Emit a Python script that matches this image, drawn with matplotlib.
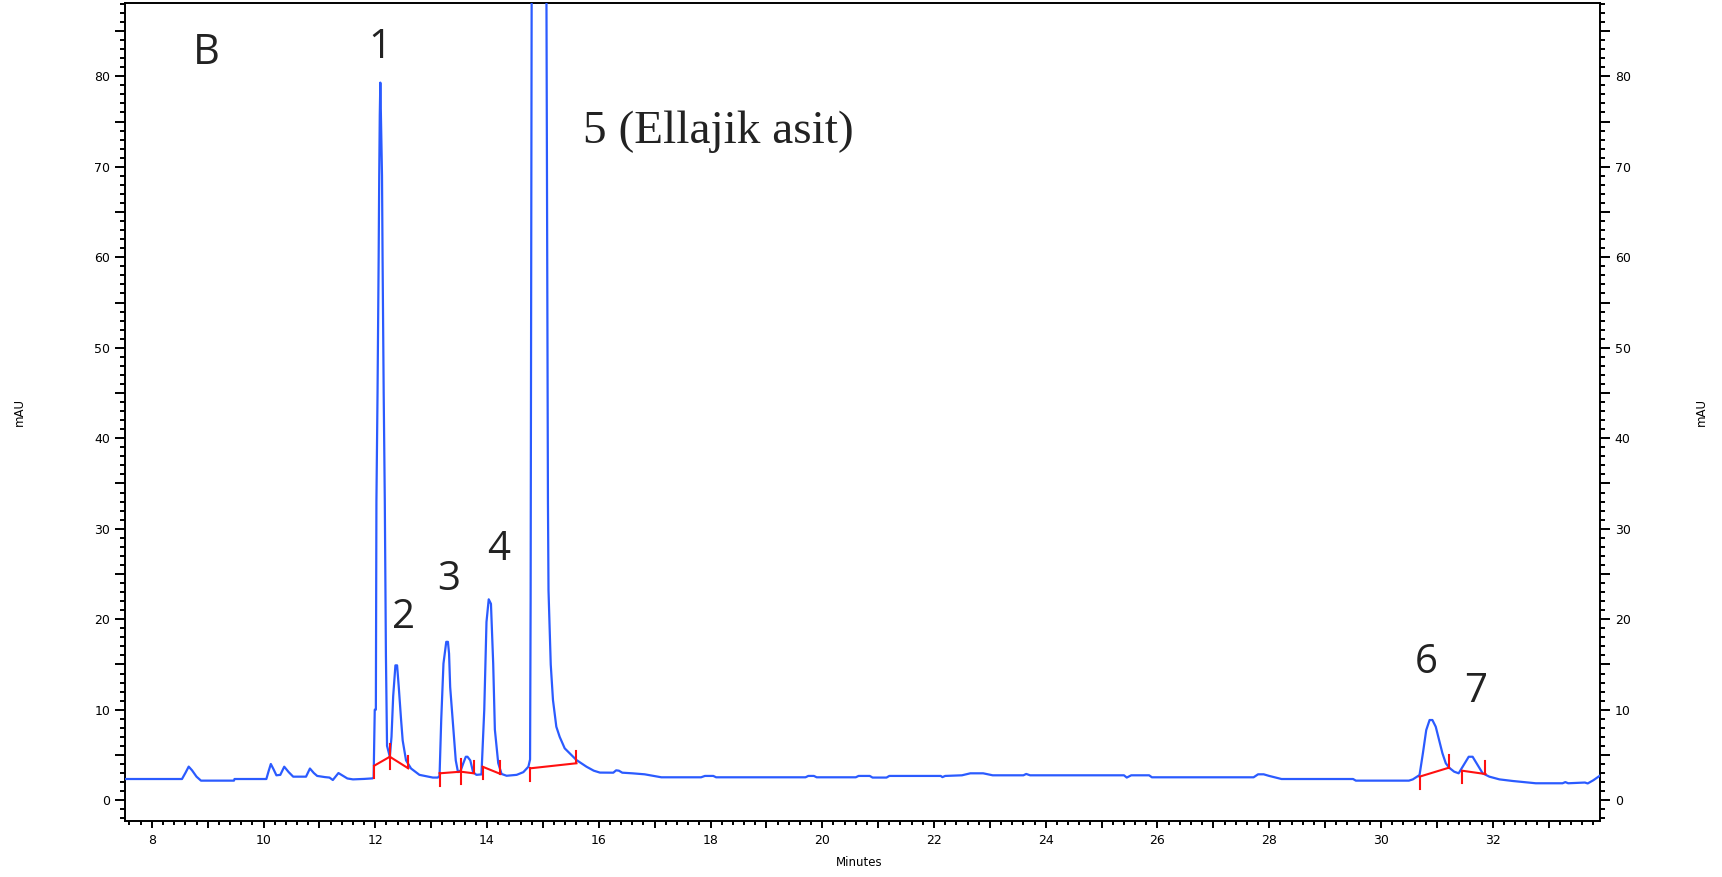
import matplotlib.pyplot as plt
from matplotlib.ticker import MultipleLocator, FuncFormatter

# Chromatogram trace (retention time in minutes, absorbance in mAU)
t_early = [7.52, 8.54, 8.60, 8.66, 8.72, 8.80, 8.88, 9.47, 9.48, 10.05, 10.09, 10.13,
           10.18, 10.23, 10.30, 10.37, 10.45, 10.53, 10.76, 10.83, 10.90, 10.96, 11.10,
           11.18, 11.24, 11.34, 11.42, 11.50, 11.60, 11.80, 11.95]
y_early = [2.34, 2.34, 3.0, 3.71, 3.3, 2.6, 2.16, 2.16, 2.34, 2.34, 3.2, 4.0,
           3.4, 2.75, 2.8, 3.7, 3.1, 2.6, 2.6, 3.5, 3.0, 2.68, 2.55,
           2.5, 2.23, 3.0, 2.7, 2.4, 2.3, 2.35, 2.41]

t_main = [11.97, 11.99, 12.01, 12.02, 12.04, 12.06, 12.07, 12.08, 12.09, 12.10, 12.12,
          12.13, 12.15, 12.17, 12.19, 12.21, 12.26, 12.29, 12.32, 12.36, 12.39, 12.42,
          12.46, 12.49, 12.55, 12.64, 12.79, 13.03, 13.12, 13.15, 13.18, 13.22, 13.27,
          13.30, 13.32, 13.34, 13.39, 13.44, 13.48, 13.53, 13.57, 13.62, 13.65, 13.70,
          13.75, 13.81, 13.90, 13.95, 13.99, 14.03, 14.07, 14.11, 14.14, 14.20, 14.26,
          14.35, 14.53, 14.65, 14.74, 14.77, 14.78, 14.79, 14.80, 14.82, 14.94, 15.05,
          15.06, 15.08, 15.09, 15.10, 15.14, 15.18, 15.24, 15.30, 15.39, 15.48, 15.60,
          15.78, 15.91, 16.02, 16.26, 16.31, 16.36, 16.42, 16.60, 16.82, 17.12]
y_main = [2.5, 10.0, 10.0, 33.0, 45.0, 60.0, 69.0, 75.7, 79.3, 75.7, 69.0,
          60.0, 45.0, 33.0, 16.0, 6.0, 4.8, 7.0, 11.5, 14.9, 14.9, 12.5,
          9.0, 6.6, 4.4, 3.5, 2.8, 2.5, 2.5, 2.7, 8.9, 15.1, 17.5,
          17.5, 16.2, 12.5, 8.5, 4.4, 3.1, 3.3, 4.0, 4.8, 4.8, 4.4,
          3.1, 2.8, 2.85, 9.97, 19.7, 22.2, 21.7, 15.1, 7.8, 4.1, 2.9,
          2.7, 2.8, 3.1, 3.7, 4.5, 22.0, 55.0, 95.0, 130.0, 150.0, 130.0,
          95.0, 55.0, 33.0, 23.2, 15.0, 11.07, 8.12, 7.0, 5.73, 5.18, 4.44,
          3.7, 3.26, 3.05, 3.04, 3.3, 3.26, 3.04, 2.97, 2.86, 2.53]

t_mid = [17.83, 17.90, 18.05, 18.10, 19.70, 19.75, 19.85, 19.90, 20.60, 20.65, 20.85,
         20.90, 21.15, 21.20, 22.12, 22.15, 22.20, 22.50, 22.65, 22.88, 23.05, 23.60,
         23.65, 23.72, 25.40, 25.45, 25.53, 25.85, 25.90, 27.72, 27.80, 27.90, 28.00,
         28.22, 29.50, 29.55, 30.50]
y_mid = [2.53, 2.68, 2.68, 2.53, 2.53, 2.68, 2.68, 2.53, 2.53, 2.68, 2.68,
         2.5, 2.5, 2.68, 2.68, 2.55, 2.68, 2.75, 2.97, 2.97, 2.75, 2.75,
         2.9, 2.75, 2.75, 2.5, 2.75, 2.75, 2.53, 2.53, 2.86, 2.86, 2.68,
         2.34, 2.34, 2.16, 2.16]

t_late = [30.57, 30.69, 30.75, 30.81, 30.87, 30.92, 30.98, 31.04, 31.10, 31.16, 31.22,
          31.31, 31.39, 31.48, 31.57, 31.64, 31.73, 31.82, 31.94, 32.12, 32.36, 32.77,
          33.25, 33.30, 33.35, 33.65, 33.70, 33.80, 33.94]
y_late = [2.3, 2.78, 5.18, 7.75, 8.86, 8.86, 8.12, 6.65, 5.18, 4.08, 3.59,
          3.15, 2.97, 3.89, 4.8, 4.8, 3.89, 2.97, 2.6, 2.3, 2.12, 1.87,
          1.87, 2.0, 1.87, 1.95, 1.85, 2.2, 2.8]

# Integration baselines: start time, start level, end time, end level
base_t0 = [11.98, 12.26, 13.15, 13.53, 13.92, 14.77, 30.69, 31.45]
base_y0 = [3.81, 4.80, 2.97, 3.15, 3.70, 3.52, 2.60, 3.26]
base_t1 = [12.26, 12.59, 13.53, 13.76, 14.24, 15.60, 31.22, 31.87]
base_y1 = [4.80, 3.52, 3.15, 2.97, 2.90, 4.08, 3.60, 2.89]

# Peak numbers and where they are written
peak_names = ["1", "2", "3", "4", "6", "7"]
peak_x = [12.08, 12.50, 13.32, 14.20, 30.81, 31.69]
peak_y = [82.0, 19.0, 23.2, 26.5, 14.1, 10.9]

minutes = t_early + t_main + t_mid + t_late
mau = y_early + y_main + y_mid + y_late

fig = plt.figure(figsize=(17.22, 8.77), dpi=100)
ax = fig.add_axes([125 / 1722, 1 - 821 / 877, 1475 / 1722, 818 / 877])

ax.plot(minutes, mau, color="#2b5bff", lw=1.6, zorder=3)

# baselines with start ticks pointing down and end ticks pointing up
tick_len = 1.4
for t0, y0, t1, y1 in zip(base_t0, base_y0, base_t1, base_y1):
    ax.plot([t0, t1], [y0, y1], color="#ff1010", lw=1.5, zorder=4)
    ax.plot([t0, t0], [y0, y0 - tick_len], color="#ff1010", lw=1.5, zorder=4)
    ax.plot([t1, t1], [y1, y1 + tick_len], color="#ff1010", lw=1.5, zorder=4)

ax.set_xlim(7.52, 33.92)
ax.set_ylim(-2.3, 88.1)

# ticks
ax.xaxis.set_major_locator(MultipleLocator(1))
ax.xaxis.set_minor_locator(MultipleLocator(0.2))
ax.xaxis.set_major_formatter(FuncFormatter(lambda v, p: f"{v:.0f}" if round(v) % 2 == 0 else ""))
ax.yaxis.set_major_locator(MultipleLocator(5))
ax.yaxis.set_minor_locator(MultipleLocator(1))
ax.yaxis.set_major_formatter(FuncFormatter(lambda v, p: f"{v:.0f}" if round(v) % 10 == 0 else ""))

ax.tick_params(axis="x", which="major", length=5, width=1.4, pad=4, labelsize=9)
ax.tick_params(axis="x", which="minor", length=2.6, width=1.4)
ax.tick_params(axis="y", which="both", left=True, right=True, labelleft=True, labelright=True)
ax.tick_params(axis="y", which="major", length=7.2, width=1.4, pad=3.5, labelsize=9)
ax.tick_params(axis="y", which="minor", length=3.6, width=1.4)
for s in ax.spines.values():
    s.set_linewidth(1.4)

ax.set_xlabel("Minutes", fontsize=8.5)
ax.xaxis.set_label_coords(0.498, -0.043)
ax.text(-0.0719, 0.5, "mAU", transform=ax.transAxes, rotation=90, ha="center", va="center", fontsize=8.5)
ax.text(1.069, 0.5, "mAU", transform=ax.transAxes, rotation=90, ha="center", va="center", fontsize=8.5)

# panel letter and peak labels
ax.text(8.98, 81.4, "B", fontsize=30, family="Open Sans", color="#222222", ha="center", va="baseline")
for name, px, py in zip(peak_names, peak_x, peak_y):
    ax.text(px, py, name, fontsize=29, family="Open Sans", color="#222222", ha="center", va="baseline")
ax.text(15.71, 72.6, "5 (Ellajik asit)", fontsize=34, family="Liberation Serif", color="#222222",
        ha="left", va="baseline")

plt.savefig("out.png", dpi=100)
